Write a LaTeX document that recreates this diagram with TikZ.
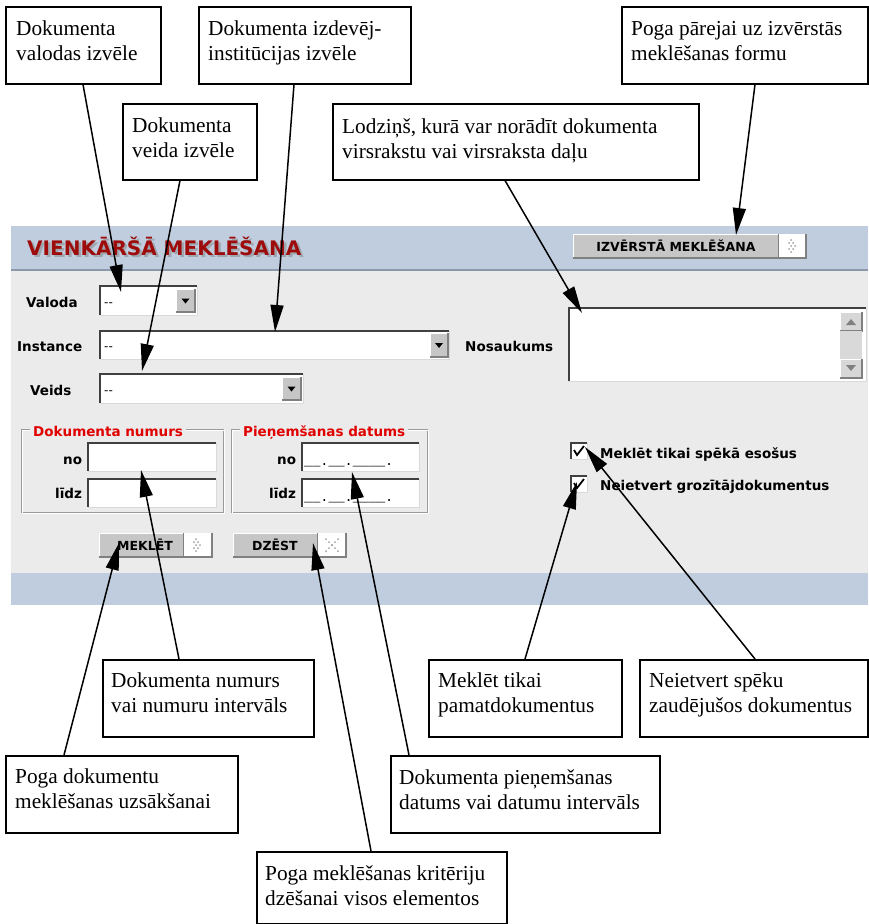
\documentclass[tikz,border=0pt]{standalone}
\usepackage{fontspec}
\setmainfont{Liberation Serif}
\newfontfamily\uifont{DejaVu Sans}
\newfontfamily\uimono{Liberation Mono}
\usetikzlibrary{arrows.meta,calc}

\definecolor{panelgray}{HTML}{EBEBEB}
\definecolor{bandblue}{HTML}{BFCDDE}
\definecolor{headline}{HTML}{8C99AA}
\definecolor{titlered}{HTML}{9E0B0B}
\definecolor{legendred}{HTML}{E00000}
\definecolor{btngray}{HTML}{C6C6C6}
\definecolor{edgedark}{HTML}{404040}
\definecolor{edgemid}{HTML}{808080}
\definecolor{frameg}{HTML}{9A9A9A}
\definecolor{dotgray}{HTML}{A0A0A0}

% sunken white field: x1 y1 x2 y2
\newcommand\uiField[4]{%
  \fill[white] (#1,#2) rectangle (#3,#4);
  \draw[line width=1pt, white!85!black] (#1,#4) -- (#3,#4) -- (#3,#2);
  \draw[line width=1.5pt, edgedark] (#1,#4) -- (#1,#2) -- (#3,#2);
}
% raised area: x1 y1 x2 y2 fill
\newcommand\uiRaised[5]{%
  \fill[#5] (#1,#2) rectangle (#3,#4);
  \draw[line width=1pt, white] (#1,#4) -- (#1,#2) -- (#3,#2);
  \draw[line width=1.2pt, edgemid] (#1,#4) -- (#3,#4) -- (#3,#2);
}
% dropdown button with black triangle
\newcommand\uiDrop[4]{%
  \uiRaised{#1}{#2}{#3}{#4}{btngray}
  \fill[black] ($(#1,#2)!.5!(#3,#4)+(-4,-2)$) -- ($(#1,#2)!.5!(#3,#4)+(4,-2)$) -- ($(#1,#2)!.5!(#3,#4)+(0,3)$) -- cycle;
}
% dotted chevron
\newcommand\uiChevron[2]{%
  \foreach \dx/\dy in {-2/-6,0/-3,2/0,0/3,-2/6,-4/-3,-2/0,-4/3}
    \fill[dotgray] (#1+\dx,#2+\dy) circle (1);
}
% dotted cross
\newcommand\uiCross[2]{%
  \foreach \k in {-6,-3,0,3,6}{
    \fill[dotgray] (#1+\k,#2+\k) circle (1);
    \fill[dotgray] (#1+\k,#2-\k) circle (1);}
}

\begin{document}
\begin{tikzpicture}[x=1pt,y=-1pt,
  note/.style={draw=black, line width=1.5pt, fill=white, inner sep=0pt, anchor=north west},
  notetxt/.style={anchor=north west, inner sep=0pt, align=left, font=\fontsize{21.3}{25}\selectfont},
  arr/.style={line width=1.5pt, -{Triangle[length=27pt,width=13pt]}},
  lbl/.style={anchor=base west, inner sep=0pt, font=\uifont\bfseries\fontsize{13.5}{16}\selectfont},
  btntxt/.style={anchor=base, inner sep=0pt, font=\uifont\bfseries\fontsize{12.5}{15}\selectfont},
  fieldtxt/.style={anchor=base west, inner sep=0pt, font=\uifont\fontsize{12}{14}\selectfont},
  legend/.style={anchor=base west, inner xsep=3pt, inner ysep=2pt, fill=panelgray, text=legendred, font=\uifont\bfseries\fontsize{13.5}{16}\selectfont},
]
\useasboundingbox (0,0) rectangle (868,924);
\fill[white] (0,0) rectangle (868,924);

% ---------- form panel ----------
\fill[panelgray] (11,226) rectangle (868,605);
\fill[bandblue] (11,226) rectangle (868,270);
\draw[headline, line width=1.2pt] (11,270) -- (868,270);
\fill[bandblue] (11,573) rectangle (868,605);

% title with shadow
\node[anchor=base west, inner sep=0pt, text=black!50, opacity=0.5, font=\uifont\bfseries\fontsize{20}{24}\selectfont] at (29.5,257.5) {VIENKĀRŠĀ MEKLĒŠANA};
\node[anchor=base west, inner sep=0pt, text=titlered, font=\uifont\bfseries\fontsize{20}{24}\selectfont] (title) at (27,255) {VIENKĀRŠĀ MEKLĒŠANA};

% advanced search button
\uiRaised{573}{234}{779}{258}{btngray}
\uiRaised{779}{234}{806}{258}{white}
\uiChevron{793}{246}
\node[btntxt] (advtxt) at (676,251) {IZVĒRSTĀ MEKLĒŠANA};

% Valoda
\node[lbl] (lvaloda) at (26,307) {Valoda};
\uiField{100}{286}{197}{315}
\node[fieldtxt] at (104,306) {--};
\uiDrop{176}{289}{195}{312}

% Instance
\node[lbl] (linst) at (17,351) {Instance};
\uiField{100}{331}{449}{359}
\node[fieldtxt] at (104,350) {--};
\uiDrop{430}{333}{448}{357}

% Veids
\node[lbl] (lveids) at (30,395) {Veids};
\uiField{100}{374}{303}{403}
\node[fieldtxt] at (104,394) {--};
\uiDrop{282}{377}{301}{400}

% Nosaukums
\node[lbl] (lnos) at (465,351) {Nosaukums};
\uiField{569}{308}{866}{381}
\uiRaised{840}{312}{862}{331}{btngray!70!white}
\fill[edgemid] (846,325) -- (856,325) -- (851,319) -- cycle;
\fill[black!15] (840,331) rectangle (862,359);
\uiRaised{840}{359}{862}{378}{btngray!70!white}
\fill[edgemid] (846,365) -- (856,365) -- (851,371) -- cycle;

% fieldset: Dokumenta numurs
\draw[frameg, line width=1pt] (21,429) rectangle (223,512);
\draw[white, line width=0.8pt] (22,430) rectangle (224,513);
\node[legend] at (30,436) {Dokumenta numurs};
\node[lbl] at (63,464) {no};
\uiField{88}{443}{216}{471}
\node[lbl] at (55,498) {līdz};
\uiField{88}{479}{216}{507}

% fieldset: Pieņemšanas datums
\draw[frameg, line width=1pt] (231,429) rectangle (427,512);
\draw[white, line width=0.8pt] (232,430) rectangle (428,513);
\node[legend] at (240,436) {Pieņemšanas datums};
\node[lbl] at (277,464) {no};
\uiField{302}{443}{419}{471}
\node[anchor=base west, inner sep=0pt, font=\uimono\fontsize{13.5}{15}\selectfont] at (304,465) {\_\_.\_\_.\_\_\_\_.};
\node[lbl] at (269,498) {līdz};
\uiField{302}{479}{419}{507}
\node[anchor=base west, inner sep=0pt, font=\uimono\fontsize{13.5}{15}\selectfont] at (304,501) {\_\_.\_\_.\_\_\_\_.};

% buttons
\uiRaised{99}{533}{184}{557}{btngray}
\uiRaised{184}{533}{212}{557}{white}
\uiChevron{198}{545}
\node[btntxt] (meklet) at (145,550) {MEKLĒT};
\uiRaised{233}{533}{318}{557}{btngray}
\uiRaised{318}{533}{346}{557}{white}
\uiCross{332}{545}
\node[btntxt] (dzest) at (275,550) {DZĒST};

% checkboxes
\uiField{571}{443}{587}{459}
\draw[line width=1.8pt] (574,450) -- (577,455) -- (584,446);
\node[lbl] at (600,458) {Meklēt tikai spēkā esošus};
\uiField{571}{476}{587}{492}
\draw[line width=1.8pt] (574,483) -- (577,488) -- (584,479);
\node[lbl] at (600,490) {Neietvert grozītājdokumentus};

% ---------- arrow targets ----------
\coordinate (t1) at (121,292);
\coordinate (t2) at (275,332);
\coordinate (t3) at (142,371);
\coordinate (t4) at (582,313);
\coordinate (t5) at (736,235);
\coordinate (t6) at (141,470);
\coordinate (t7) at (119,543);
\coordinate (t8) at (313,543);
\coordinate (t9) at (352,472);
\coordinate (t10) at (577,482);
\coordinate (t11) at (585,447);

% ---------- callout boxes ----------
\node[note, minimum width=155pt, minimum height=77pt] (b1) at (5,6) {};
\node[note, minimum width=212pt, minimum height=77pt] (b2) at (198,6) {};
\node[note, minimum width=134pt, minimum height=76pt] (b3) at (122,103) {};
\node[note, minimum width=366pt, minimum height=76pt] (b4) at (332,103) {};
\node[note, minimum width=246pt, minimum height=77pt] (b5) at (621,6) {};
\node[note, minimum width=211pt, minimum height=77pt] (b6) at (102,659) {};
\node[note, minimum width=232pt, minimum height=77pt] (b7) at (5,755) {};
\node[note, minimum width=250pt, minimum height=72pt] (b8) at (256,851) {};
\node[note, minimum width=269pt, minimum height=77pt] (b9) at (390,755) {};
\node[note, minimum width=193pt, minimum height=77pt] (b10) at (428,659) {};
\node[note, minimum width=228pt, minimum height=77pt] (b11) at (639,659) {};

\node[notetxt] at ([shift={(11,15)}]b1.north west) {Dokumenta\\valodas izvēle};
\node[notetxt] at ([shift={(10,15)}]b2.north west) {Dokumenta izdevēj-\\institūcijas izvēle};
\node[notetxt] at ([shift={(10,15)}]b3.north west) {Dokumenta\\veida izvēle};
\node[notetxt] at ([shift={(10,15)}]b4.north west) {Lodziņš, kurā var norādīt dokumenta\\virsrakstu vai virsraksta daļu};
\node[notetxt] at ([shift={(10,15)}]b5.north west) {Poga pārejai uz izvērstās\\meklēšanas formu};
\node[notetxt] at ([shift={(9,14)}]b6.north west) {Dokumenta numurs\\vai numuru intervāls};
\node[notetxt] at ([shift={(10,14)}]b7.north west) {Poga dokumentu\\meklēšanas uzsākšanai};
\node[notetxt] at ([shift={(9,14)}]b8.north west) {Poga meklēšanas kritēriju\\dzēšanai visos elementos};
\node[notetxt] at ([shift={(9,14)}]b9.north west) {Dokumenta pieņemšanas\\datums vai datumu intervāls};
\node[notetxt] at ([shift={(10,14)}]b10.north west) {Meklēt tikai\\pamatdokumentus};
\node[notetxt] at ([shift={(10,14)}]b11.north west) {Neietvert spēku\\zaudējušos dokumentus};

% ---------- connectors ----------
\draw[arr] ([xshift=78pt]b1.south west) -- (t1);
\draw[arr] ([xshift=96pt]b2.south west) -- (t2);
\draw[arr] ([xshift=58pt]b3.south west) -- (t3);
\draw[arr] ([xshift=173pt]b4.south west) -- (t4);
\draw[arr] ([xshift=134pt]b5.south west) -- (t5);
\draw[arr] ([xshift=77pt]b6.north west) -- (t6);
\draw[arr] ([xshift=59pt]b7.north west) -- (t7);
\draw[arr] ([xshift=115pt]b8.north west) -- (t8);
\draw[arr] ([xshift=19pt]b9.north west) -- (t9);
\draw[arr] ([xshift=97pt]b10.north west) -- (t10);
\draw[arr] ([xshift=116pt]b11.north west) -- (t11);
\end{tikzpicture}
\end{document}
